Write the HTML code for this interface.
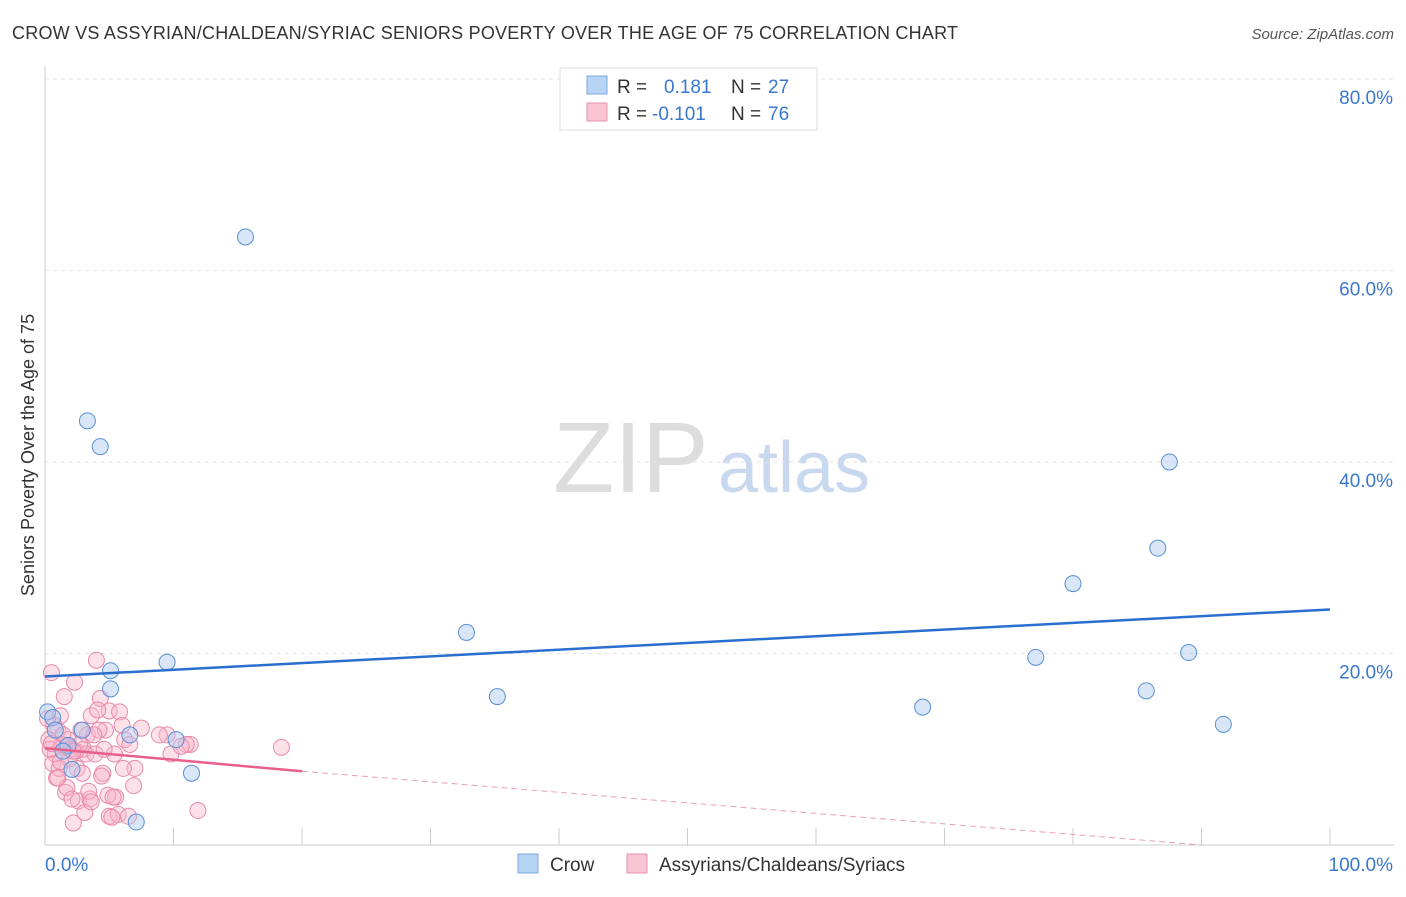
<!DOCTYPE html>
<html><head><meta charset="utf-8"><style>
body{margin:0;background:#fff;font-family:"Liberation Sans",sans-serif;}
svg text{font-family:"Liberation Sans",sans-serif;}
</style></head><body>
<svg id="chart" width="1406" height="892">
<text x="12" y="39" font-size="18" fill="#333" textLength="946">CROW VS ASSYRIAN/CHALDEAN/SYRIAC SENIORS POVERTY OVER THE AGE OF 75 CORRELATION CHART</text>
<text x="1394" y="39" font-size="15" fill="#555" font-style="italic" text-anchor="end">Source: ZipAtlas.com</text>
<text x="34" y="455" font-size="18" fill="#333" text-anchor="middle" transform="rotate(-90 34 455)">Seniors Poverty Over the Age of 75</text>
<text x="553" y="492" font-size="100" fill="#ddd" font-family="Liberation Serif">ZIP</text>
<text x="718" y="492" font-size="72" fill="#c8d8ee">atlas</text>
<g id="grid"></g><g id="marks"></g>
<g>
<rect x="560" y="68" width="257" height="62" fill="#fff" stroke="#ddd"/>
<rect x="587" y="76" width="20" height="18" fill="#b8d4f5" stroke="#7aa8e0"/>
<text x="617" y="93" font-size="19" fill="#333">R = </text><text x="664" y="93" font-size="19" fill="#3a78d0">0.181</text>
<text x="731" y="93" font-size="19" fill="#333">N = </text><text x="768" y="93" font-size="19" fill="#3a78d0">27</text>
<rect x="587" y="103" width="20" height="18" fill="#f8c4d4" stroke="#e890ac"/>
<text x="617" y="120" font-size="19" fill="#333">R = </text><text x="652" y="120" font-size="19" fill="#3a78d0">-0.101</text>
<text x="731" y="120" font-size="19" fill="#333">N = </text><text x="768" y="120" font-size="19" fill="#3a78d0">76</text>
</g>
<g>
<rect x="518" y="854" width="20" height="19" fill="#b8d4f5" stroke="#7aa8e0"/>
<text x="550" y="871" font-size="19" fill="#333">Crow</text>
<rect x="627" y="854" width="20" height="19" fill="#f8c4d4" stroke="#e890ac"/>
<text x="659" y="871" font-size="19" fill="#333">Assyrians/Chaldeans/Syriacs</text>
</g>
</svg>
<script>
const yTicks=[20,40,60,80];
const yTickLabels=["20.0%","40.0%","60.0%","80.0%"];
const xTicks=[0,10,20,30,40,50,60,70,80,90,100];
const crowX=[15.6,3.3,4.3,87.5,86.6,80.0,32.8,9.5,77.1,89.0,5.1,5.1,35.2,85.7,68.3,91.7,0.2,0.6,2.9,6.6,10.2,1.8,1.4,2.1,11.4,7.1,0.8];
const crowY=[63.5,44.3,41.6,40.0,31.0,27.3,22.2,19.1,19.6,20.1,18.2,16.3,15.5,16.1,14.4,12.6,13.9,13.3,12.0,11.5,11.0,10.4,9.8,7.9,7.5,2.4,12.0];
const syrX=[0.5,0.8,1.0,1.2,1.5,1.8,2.0,2.3,2.5,2.8,3.0,3.3,3.6,4.0,4.3,4.7,5.0,5.4,5.8,6.2,6.6,7.0,0.3,0.6,0.9,1.3,1.6,1.9,2.2,2.6,2.9,3.2,3.5,3.9,4.2,4.6,5.0,5.5,6.0,0.4,0.7,1.1,1.4,1.7,2.1,2.4,2.7,3.1,3.4,3.8,4.1,4.5,4.9,5.3,5.7,6.1,6.5,9.5,9.8,11.3,11.9,11.0,10.6,18.4,6.9,8.9,7.5,1.0,1.7,2.2,0.2,0.5,3.6,4.4,5.2,1.2];
const syrY=[18.0,9.5,12.0,13.5,15.5,11.0,10.0,17.0,8.0,12.0,10.0,11.5,13.5,19.3,15.3,12.0,14.0,9.5,13.9,11.0,10.5,8.0,11.0,8.5,7.0,10.5,5.5,9.0,2.3,4.6,7.5,9.5,4.8,9.5,12.0,10.0,3.0,5.0,12.5,10.0,12.5,8.0,11.5,6.0,4.8,9.8,10.5,3.4,5.6,11.5,14.1,7.5,5.2,5.0,3.2,8.0,3.0,11.5,9.5,10.5,3.6,10.5,10.3,10.2,6.2,11.5,12.2,7.0,10.3,9.8,13.2,10.6,4.5,7.2,2.9,8.7];
const L=45,R=1330,T0=845,PX=191.5/20;
const sx=v=>L+(R-L)*v/100, sy=v=>T0-v*PX;
const NS="http://www.w3.org/2000/svg";
function mk(t,a,p){const e=document.createElementNS(NS,t);for(const k in a)e.setAttribute(k,a[k]);p.appendChild(e);return e;}
const g=document.getElementById('grid'),m=document.getElementById('marks');
let ax=mk('line',{x1:L,y1:66,x2:L,y2:T0,stroke:'#ccc'},g);


let bx=mk('line',{x1:L,y1:T0,x2:1394,y2:T0,stroke:'#ccc'},g);


yTicks.forEach((v,i)=>{
 let l=mk('line',{x1:L,y1:sy(v),x2:1394,y2:sy(v),stroke:'#e4e4e4','stroke-dasharray':'4,4'},g);
 
 
 let t=mk('text',{x:1393,y:sy(v)+25,'font-size':19,fill:'#3a78d0','text-anchor':'end'},g);t.textContent=yTickLabels[i];
 
 
});
xTicks.forEach(v=>{let l=mk('line',{x1:sx(v),y1:T0,x2:sx(v),y2:T0-17,stroke:'#ccc'},g);
 
 });
let x0=mk('text',{x:45,y:871,'font-size':19,fill:'#3a78d0'},g);x0.textContent='0.0%';


let x1=mk('text',{x:1393,y:871,'font-size':19,fill:'#3a78d0','text-anchor':'end'},g);x1.textContent='100.0%';


syrX.forEach((x,i)=>{let c=mk('circle',{cx:sx(x),cy:sy(syrY[i]),r:8,fill:'rgba(248,180,200,0.4)',stroke:'#e88aa8','stroke-width':1},m);
 
 });
crowX.forEach((x,i)=>{let c=mk('circle',{cx:sx(x),cy:sy(crowY[i]),r:8,fill:'rgba(170,200,240,0.45)',stroke:'#5a8fd6','stroke-width':1},m);
 
 });
let bl=mk('line',{x1:sx(0),y1:sy(17.6),x2:sx(100),y2:sy(24.6),stroke:'#2a6fd0','stroke-width':2.5},m);


let pl=mk('line',{x1:sx(0),y1:sy(10.1),x2:sx(20),y2:sy(7.7),stroke:'#e8608a','stroke-width':2.5},m);


let pd=mk('line',{x1:sx(20),y1:sy(7.7),x2:sx(90),y2:sy(0),stroke:'#e8a0b8','stroke-width':1,'stroke-dasharray':'6,4'},m);


</script>
</body></html>
